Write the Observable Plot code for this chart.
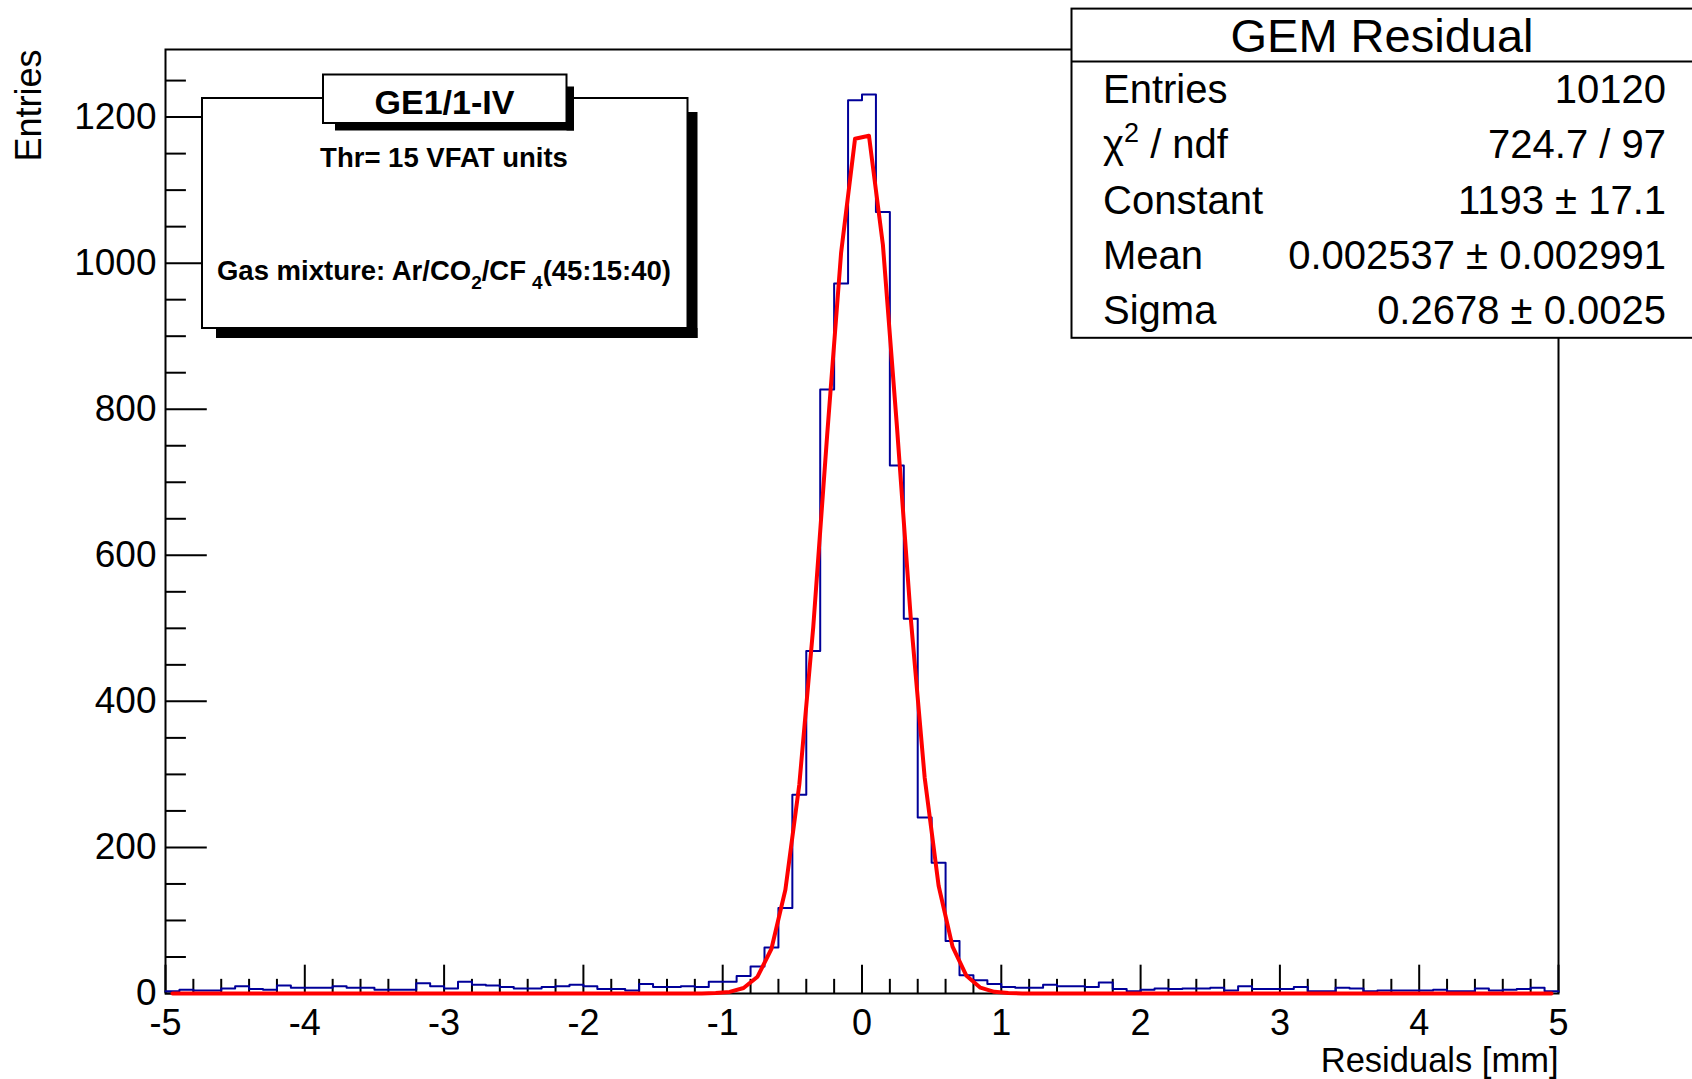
<!DOCTYPE html>
<html>
<head>
<meta charset="utf-8">
<script src="https://cdn.jsdelivr.net/npm/d3@7"></script>
<script src="https://cdn.jsdelivr.net/npm/@observablehq/plot@0.6"></script>
<style>
  html, body { margin: 0; padding: 0; background: #fff; overflow: hidden; }
  svg { display: block; }
</style>
</head>
<body>
<div id="chart"></div>
<script>
// ---------------- data ----------------
const binLow = -5;
const binHigh = 5;
const binWidth = 0.1;
// 100 bin contents (bin i covers [-5 + 0.1 i, -5 + 0.1 (i+1)])
const counts = [
  3, 5, 4, 4, 7, 10, 6, 5, 11, 8,
  8, 8, 10, 8, 8, 5, 5, 5, 14, 10,
  7, 16, 12, 11, 9, 7, 7, 9, 10, 12,
  10, 6, 6, 4, 13, 9, 9, 10, 9, 16,
  16, 24, 37, 63, 117, 272, 469, 827, 972, 1223,
  1231, 1070, 723, 513, 241, 179, 72, 25, 18, 13,
  9, 8, 8, 12, 10, 10, 9, 15, 6, 3,
  5, 7, 6, 7, 7, 8, 4, 10, 6, 6,
  6, 9, 3, 3, 8, 7, 3, 4, 4, 4,
  4, 5, 3, 3, 7, 4, 5, 6, 8, 3
];
// Gaussian fit parameters (from the stats box)
const fitConstant = 1193;
const fitMean = 0.002537;
const fitSigma = 0.2678;

const statsTitle = "GEM Residual";
const statLabels = ["Entries", "χ2 / ndf", "Constant", "Mean", "Sigma"];
const statValues = ["10120", "724.7 / 97", "1193 ± 17.1", "0.002537 ± 0.002991", "0.2678 ± 0.0025"];

const xTicks = [-5, -4, -3, -2, -1, 0, 1, 2, 3, 4, 5];
const yTicks = [0, 200, 400, 600, 800, 1000, 1200];
const xMinorStep = 0.2;
const yMinorStep = 50;

const xLabel = "Residuals [mm]";
const yLabel = "Entries";

const legendTitle = "GE1/1-IV";
const legendLine1 = "Thr= 15 VFAT units";
const legendLine2Parts = ["Gas mixture: Ar/CO", "2", "/CF", "4", "(45:15:40)"];

// ---------------- derived tables ----------------
const histPts = counts.map((c, i) => ({x: binLow + i * binWidth, y: c}));
histPts.push({x: binHigh, y: counts[counts.length - 1]});
const fitPts = counts.map((_, i) => {
  const x = binLow + (i + 0.5) * binWidth;
  return {x, y: fitConstant * Math.exp(-0.5 * ((x - fitMean) / fitSigma) ** 2)};
});
const yMax = 1.05 * d3.max(counts);
const xMinor = d3.range(binLow, binHigh + 1e-9, xMinorStep).filter(v => !xTicks.some(t => Math.abs(t - v) < 1e-6));
const yMinor = d3.range(0, yMax, yMinorStep).filter(v => !yTicks.includes(v));

const FONT = "'Liberation Sans', Arial, Helvetica, sans-serif";
const xSpan = binHigh - binLow;

const chart = Plot.plot({
  width: 1692,
  height: 1079,
  marginLeft: 165,
  marginRight: 134,
  marginTop: 49,
  marginBottom: 86,
  style: {fontFamily: FONT, background: "white", color: "black"},
  x: {domain: [binLow, binHigh]},
  y: {domain: [0, yMax]},
  marks: [
    Plot.frame({stroke: "black", strokeWidth: 2}),
    // y ticks (inward)
    Plot.ruleY(yTicks, {y: d => d, x1: binLow, x2: binLow + 0.03 * xSpan, stroke: "black", strokeWidth: 2}),
    Plot.ruleY(yMinor, {y: d => d, x1: binLow, x2: binLow + 0.015 * xSpan, stroke: "black", strokeWidth: 2}),
    // x ticks (inward)
    Plot.ruleX(xTicks, {x: d => d, y1: 0, y2: 0.03 * yMax, stroke: "black", strokeWidth: 2}),
    Plot.ruleX(xMinor, {x: d => d, y1: 0, y2: 0.015 * yMax, stroke: "black", strokeWidth: 2}),
    Plot.axisY({ticks: yTicks, tickSize: 0, tickPadding: 9, tickFormat: d => String(d), fontSize: 37, label: null}),
    Plot.axisX({ticks: xTicks, tickSize: 0, tickPadding: 16, tickFormat: d => String(d), fontSize: 36, label: null}),
    // histogram outline
    Plot.line(histPts, {x: "x", y: "y", curve: "step-after", stroke: "#000099", strokeWidth: 2}),
    // gaussian fit
    Plot.line(fitPts, {x: "x", y: "y", stroke: "#ff0000", strokeWidth: 4, strokeLinejoin: "round"}),
    // axis titles
    Plot.text([xLabel], {text: d => d, frameAnchor: "bottom-right", textAnchor: "end", lineAnchor: "middle", dy: 67.5, fontSize: 34.5}),
    Plot.text([yLabel], {text: d => d, frameAnchor: "top-left", rotate: -90, textAnchor: "end", lineAnchor: "middle", dx: -136, fontSize: 36})
  ]
});
document.getElementById("chart").appendChild(chart);

// ---------------- annotation boxes (layout) ----------------
const svg = d3.select(chart);
const g = svg.append("g").attr("font-family", FONT).attr("fill", "black").attr("text-anchor", "start");

// Legend (TPaveText) with shadow
function shadowBox(x, y, w, h, s, off) {
  g.append("rect").attr("x", x + off).attr("y", y + h).attr("width", w - off + s).attr("height", s).attr("fill", "black");
  g.append("rect").attr("x", x + w).attr("y", y + off).attr("width", s).attr("height", h - off + s).attr("fill", "black");
  g.append("rect").attr("x", x).attr("y", y).attr("width", w).attr("height", h)
    .attr("fill", "white").attr("stroke", "black").attr("stroke-width", 2);
}
shadowBox(202, 98, 485.5, 230, 10, 14);
shadowBox(323, 74.5, 243.5, 48.5, 7.5, 12);

g.append("text").attr("x", 444.5).attr("y", 114).attr("text-anchor", "middle")
  .attr("font-weight", "bold").attr("font-size", 34).text(legendTitle);
g.append("text").attr("x", 444).attr("y", 167).attr("text-anchor", "middle")
  .attr("font-weight", "bold").attr("font-size", 27.5).text(legendLine1);
const gas = g.append("text").attr("x", 444).attr("y", 280).attr("text-anchor", "middle")
  .attr("font-weight", "bold").attr("font-size", 27.5);
gas.append("tspan").text(legendLine2Parts[0]);
gas.append("tspan").attr("font-size", 19).attr("dy", 9).text(legendLine2Parts[1]);
gas.append("tspan").attr("dy", -9).text(legendLine2Parts[2]);
gas.append("tspan").attr("font-size", 19).attr("dy", 9).attr("dx", 6).text(legendLine2Parts[3]);
gas.append("tspan").attr("dy", -9).text(legendLine2Parts[4]);

// Stats box
const sx = 1071.5, sy = 8.6, sh = 329.2, sepY = 61.5;
g.append("rect").attr("x", sx).attr("y", sy).attr("width", 700).attr("height", sh)
  .attr("fill", "white").attr("stroke", "black").attr("stroke-width", 2);
g.append("line").attr("x1", sx).attr("x2", 1700).attr("y1", sepY).attr("y2", sepY)
  .attr("stroke", "black").attr("stroke-width", 2);
g.append("text").attr("x", 1382).attr("y", 52).attr("text-anchor", "middle")
  .attr("font-size", 47).text(statsTitle);
const rowH = (sy + sh - sepY) / statLabels.length;
statLabels.forEach((lab, i) => {
  const base = sepY + (i + 0.5) * rowH + 14;
  const t = g.append("text").attr("x", 1103).attr("y", base).attr("text-anchor", "start").attr("font-size", 40);
  if (lab.startsWith("χ2")) {
    t.append("tspan").text("χ");
    t.append("tspan").attr("font-size", 27).attr("dy", -16).text("2");
    t.append("tspan").attr("dy", 16).text(lab.slice(2));
  } else {
    t.text(lab);
  }
  g.append("text").attr("x", 1666).attr("y", base).attr("text-anchor", "end")
    .attr("font-size", 40).text(statValues[i]);
});
</script>
</body>
</html>
